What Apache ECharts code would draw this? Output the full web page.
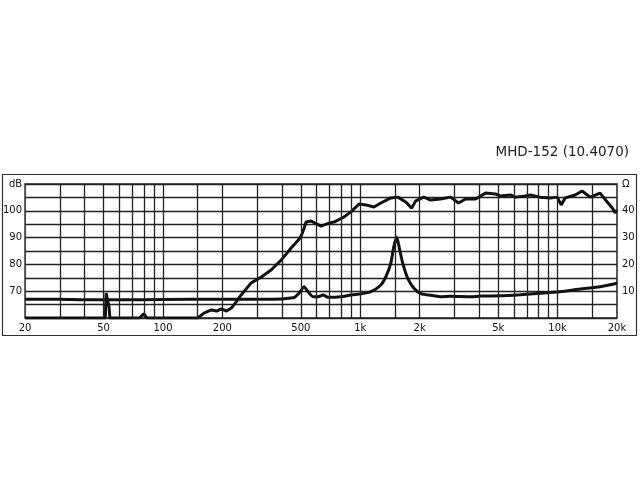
<!DOCTYPE html>
<html>
<head>
<meta charset="utf-8">
<script src="https://cdn.jsdelivr.net/npm/echarts@6/dist/echarts.min.js"></script>
<style>
html,body{margin:0;padding:0;background:#fff;}
#c{width:640px;height:480px;}
</style>
</head>
<body>
<div id="c"></div>
<script>
// Frequency response (SPL, dB) of MHD-152
const splFreq = [20,30,45,51,51.5,52.5,53.3,53.8,76,79.8,83,150,162,176,187,198,210,222,235,249,280,315,353,397,446,484,501,519,531,563,632,694,736,826,897,984,1067,1172,1271,1428,1548,1700,1822,1910,2096,2272,2552,2868,3148,3414,3836,4309,4840,5130,5764,6110,6860,7272,8166,9174,9954,10428,10920,12270,13312,14616,16416,16800,18020,19080,19540,20000];
const splDb   = [60,60,60,60,69.3,68.8,64,60,60,61.6,60,60,61.9,63,62.6,63.4,62.6,63.7,66,68.6,73.1,75.3,77.9,81.6,86.1,89,90.5,93.5,95.8,96.2,94.3,95.4,95.8,97.7,99.6,102.5,102.2,101.4,102.9,104.8,105.1,103.3,101,103.7,105.1,104,104.4,105.1,102.9,104.4,104.4,106.6,106.3,105.5,105.9,105.1,105.5,105.9,105.1,104.8,105.1,102.2,104.8,105.9,107.4,105.1,106.6,107,102.9,100.7,99.2,100.3];
// Impedance (Ohm)
const impFreq = [20,30,40,60,100,200,300,400,446,462,490,519,543,577,611,647,686,798,897,1007,1132,1271,1348,1428,1478,1530,1584,1640,1738,1866,2024,2354,2552,2868,3622,4064,5130,6474,8166,10300,13000,16416,19320,20000];
const impOhm  = [7.0,7.0,6.8,6.8,6.9,7.0,7.0,7.1,7.5,7.6,9.3,11.7,9.8,7.9,7.9,8.6,7.7,7.9,8.6,9.0,9.8,12.3,15.4,20.5,26.6,30.1,25.4,20.5,14.9,11.2,9.1,8.3,7.9,8.1,7.9,8.2,8.3,8.7,9.2,9.8,10.8,11.7,12.7,13.1];
// Axis ticks / grid
const freqGrid = [30,40,50,60,70,80,90,100,150,200,300,400,500,600,700,800,900,1000,1500,2000,3000,4000,5000,6000,7000,8000,9000,10000,15000];
const freqLabels = [20,50,100,200,500,1000,2000,5000,10000,20000];
const dbLabels = [70,80,90,100];
const ohmLabels = [10,20,30,40];
const titleText = 'MHD-152 (10.4070)';

const zip = (a,b) => a.map((v,i) => [v, b[i]]);
const FONT = 'DejaVu Sans';
const chart = echarts.init(document.getElementById('c'), null, {renderer:'canvas'});
chart.setOption({
  animation:false,
  backgroundColor:'#fff',
  title:{text:titleText, right:6, top:140, textStyle:{fontFamily:FONT, fontSize:13.5, fontWeight:'normal', color:'#222'}},
  graphic:[{type:'rect', shape:{x:2.5,y:174.5,width:634,height:161}, style:{fill:'none', stroke:'#333', lineWidth:1.2}, z:0}],
  grid:{left:23, right:23, top:184, bottom:162, show:true, borderColor:'#222', borderWidth:1.5, backgroundColor:'transparent'},
  xAxis:{type:'log', logBase:10, min:20, max:20000,
    axisLine:{show:false}, axisTick:{show:false}, splitLine:{show:false}, minorSplitLine:{show:false},
    axisLabel:{customValues:freqLabels, margin:5, fontFamily:FONT, fontSize:10, color:'#111',
      formatter:v => v>=1000 ? (v/1000)+'k' : String(v)}},
  yAxis:[
    {type:'value', min:60, max:110, interval:5, position:'left',
      axisLine:{show:false}, axisTick:{show:false},
      splitLine:{show:true, lineStyle:{color:'#222', width:1.3}},
      axisLabel:{margin:3, fontFamily:FONT, fontSize:10, color:'#111',
        formatter:v => v===110 ? 'dB' : (dbLabels.indexOf(v)>=0 ? String(v) : '')}},
    {type:'value', min:0, max:50, interval:5, position:'right',
      axisLine:{show:false}, axisTick:{show:false}, splitLine:{show:false},
      axisLabel:{margin:5, fontFamily:FONT, fontSize:10, color:'#111',
        formatter:v => v===50 ? 'Ω' : (ohmLabels.indexOf(v)>=0 ? String(v) : '')}}
  ],
  series:[
    {type:'line', data:[], z:1, silent:true,
      markLine:{silent:true, symbol:'none', label:{show:false}, animation:false,
        lineStyle:{type:'solid', color:'#222', width:1.3},
        data:freqGrid.map(f => ({xAxis:f}))}},
    {type:'line', yAxisIndex:1, data:zip(impFreq, impOhm), showSymbol:false, z:3,
      lineStyle:{color:'#111', width:3}, smooth:0.2},
    {type:'line', yAxisIndex:0, data:zip(splFreq, splDb), showSymbol:false, z:3,
      lineStyle:{color:'#111', width:3}}
  ]
});
</script>
</body>
</html>
